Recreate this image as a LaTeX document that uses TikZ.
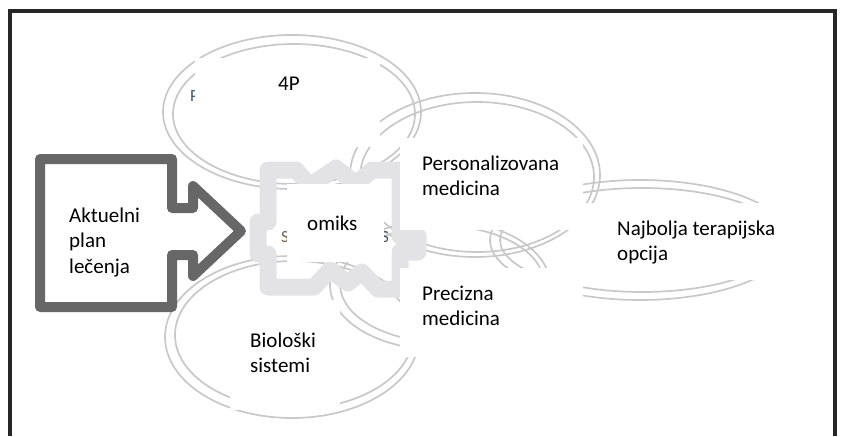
\documentclass[tikz,border=0pt]{standalone}
\usepackage{fontspec}
\setmainfont{Carlito}
\definecolor{ringgray}{HTML}{C8C8C8}
\definecolor{arrowgray}{HTML}{676767}
\definecolor{puzzlegray}{HTML}{E3E3E6}
\definecolor{framegray}{HTML}{262626}
\definecolor{slate}{HTML}{44546A}
\begin{document}
\begin{tikzpicture}[x=1pt,y=-1pt,
  ring/.style={draw=ringgray, line width=1.7pt},
  coverbox/.style={fill=white, draw=none},
  lbl/.style={anchor=base west, inner sep=0pt, font=\fontsize{21}{25}\selectfont, text=black},
  scrap/.style={anchor=base west, inner sep=0pt, font=\fontsize{17}{17}\selectfont, text=slate}]
\useasboundingbox (0,0) rectangle (842,436);

% outer frame, open at the bottom
\draw[framegray, line width=3.5pt] (10,436) -- (10,11) -- (835,11) -- (835,436);

% double-line ellipses
\draw[ring] (292,112) ellipse [x radius=129, y radius=77];
\draw[ring] (294,114) ellipse [x radius=121, y radius=70];
\draw[ring] (475,175) ellipse [x radius=125, y radius=82];
\draw[ring] (477,177) ellipse [x radius=117, y radius=75];
\draw[ring] (640,240) ellipse [x radius=150, y radius=60];
\draw[ring] (642,240) ellipse [x radius=142, y radius=52];
\draw[ring] (292,337) ellipse [x radius=127, y radius=81];
\draw[ring] (294,335) ellipse [x radius=119, y radius=74];
\draw[ring] (440,285) ellipse [x radius=110, y radius=65];
\draw[ring] (442,284) ellipse [x radius=102, y radius=58];

% bits of older lettering left showing at box edges
\node[scrap] (oldp) at (190,101) {P};
\node[scrap, text=slate!70!orange] (olds1) at (281,242) {S};
\node[scrap] (olds2) at (381,242) {S};

% block arrow
\draw[arrowgray, fill=white, line width=10pt, line join=round]
  (40,159) -- (172,159) -- (172,208) -- (193,208) -- (193,186) -- (241,231)
  -- (193,276) -- (193,255) -- (172,255) -- (172,307) -- (40,307) -- cycle;

% jagged frame round the centre
\draw[puzzlegray, line width=17pt, line join=round]
  (268,170) -- (296,170) -- (310,186) -- (336,168) -- (356,184) -- (372,170)
  -- (400,170) -- (400,236) -- (418,236) -- (418,252) -- (400,252) -- (400,289)
  -- (378,289) -- (362,272) -- (348,283) -- (330,270) -- (314,287) -- (268,287)
  -- (268,254) -- (258,254) -- (258,222) -- (268,222) -- cycle;

% white text boxes
\fill[coverbox] (195,58) rectangle (380,147);
\fill[coverbox] (400,138) rectangle (583,230);
\fill[coverbox] (583,203) rectangle (800,280);
\fill[coverbox] (400,268) rectangle (583,357);
\fill[coverbox] (287,184) rectangle (384,262);
\fill[coverbox] (230,300) rectangle (340,410);

% labels
\node[lbl] (fourp) at (278,90) {4P};
\node[lbl] (pers1) at (422,170) {Personalizovana};
\node[lbl] (pers2) at (422,195) {medicina};
\node[lbl] (best1) at (617,235) {Najbolja terapijska};
\node[lbl] (best2) at (617,260) {opcija};
\node[lbl] (plan1) at (69,222) {Aktuelni};
\node[lbl] (plan2) at (69,247) {plan};
\node[lbl] (plan3) at (69,273) {lečenja};
\node[lbl] (omiks) at (307,230) {omiks};
\node[lbl] (prec1) at (422,300) {Precizna};
\node[lbl] (prec2) at (422,325) {medicina};
\node[lbl] (bio1) at (250,347) {Biološki};
\node[lbl] (bio2) at (250,372) {sistemi};
\end{tikzpicture}
\end{document}
